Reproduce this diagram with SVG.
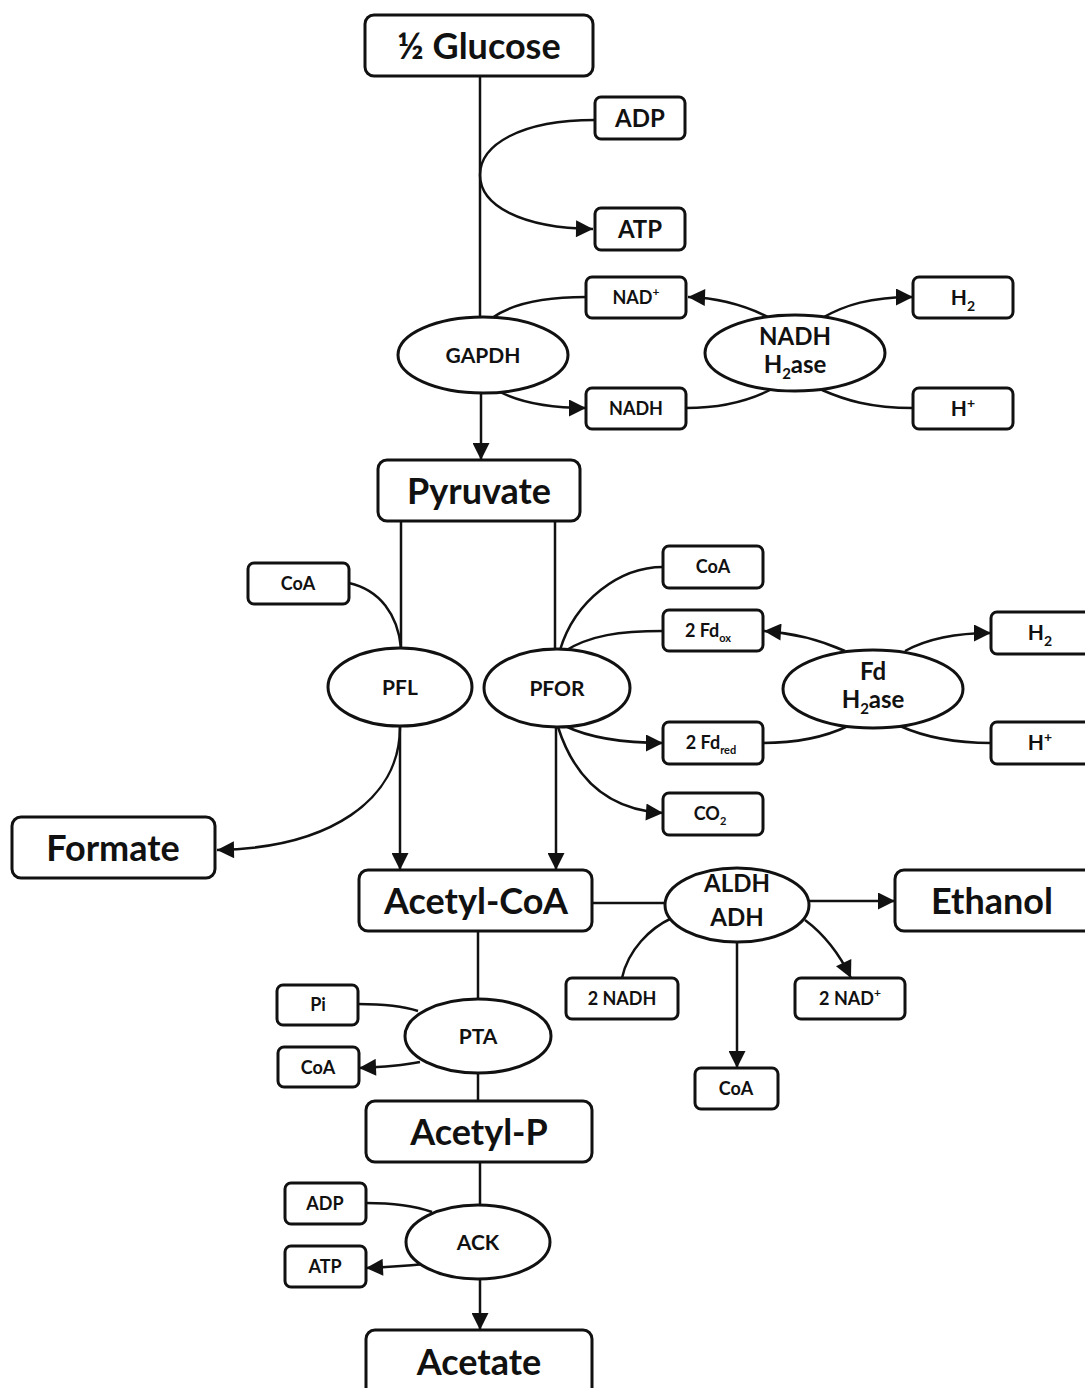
<svg xmlns="http://www.w3.org/2000/svg" width="1085" height="1388" viewBox="0 0 1085 1388">
<style>
.box{fill:#fff;stroke:#111;stroke-width:3}
.ell{fill:#fff;stroke:#111;stroke-width:3}
.ln{fill:none;stroke:#111;stroke-width:2.5}
text{font-family:Lato,"Open Sans","Liberation Sans",sans-serif;font-weight:700;fill:#111;text-anchor:middle}
.big{font-size:36px}
.med{font-size:24px}
.sm{font-size:21px}
.xs{font-size:18px}
</style>
<defs>
<marker id="ah" viewBox="0 0 10 10" refX="10" refY="5" markerWidth="19" markerHeight="17" markerUnits="userSpaceOnUse" orient="auto"><path d="M0,0 L10,5 L0,10 z" fill="#111"/></marker>
</defs>
<rect width="1085" height="1388" fill="#fff"/>
<g id="connectors">
<path class="ln" d="M480,76 V317"/>
<path class="ln" d="M595,120 C520,120 480,145 480,175 C480,205 520,228 593,229" marker-end="url(#ah)"/>
<path class="ln" d="M481,393 V460" marker-end="url(#ah)"/>
<path class="ln" d="M492,318 C510,305 540,297 586,297"/>
<path class="ln" d="M500,392 C520,402 550,408 586,408" marker-end="url(#ah)"/>
<path class="ln" d="M770,318 C745,305 720,298 688,297" marker-end="url(#ah)"/>
<path class="ln" d="M822,318 C845,305 870,297 913,297" marker-end="url(#ah)"/>
<path class="ln" d="M686,408 C725,408 750,400 770,390"/>
<path class="ln" d="M913,408 C870,408 845,400 822,390"/>
<path class="ln" d="M401,521 V648"/>
<path class="ln" d="M400,727 V870" marker-end="url(#ah)"/>
<path class="ln" d="M555,521 V650"/>
<path class="ln" d="M556,727 V870" marker-end="url(#ah)"/>
<path class="ln" d="M349,583 C380,590 398,615 401,648"/>
<path class="ln" d="M400,727 C400,800 330,848 217,850" marker-end="url(#ah)"/>
<path class="ln" d="M560,650 C575,600 620,567 663,567"/>
<path class="ln" d="M563,652 C590,635 620,631 663,631"/>
<path class="ln" d="M565,726 C590,738 620,743 663,743" marker-end="url(#ah)"/>
<path class="ln" d="M558,727 C575,780 610,810 663,813" marker-end="url(#ah)"/>
<path class="ln" d="M845,651 C820,640 795,633 764,631" marker-end="url(#ah)"/>
<path class="ln" d="M905,651 C925,640 955,633 991,633" marker-end="url(#ah)"/>
<path class="ln" d="M763,743 C800,743 825,737 848,726"/>
<path class="ln" d="M991,743 C950,743 920,735 900,726"/>
<path class="ln" d="M592,903 H665"/>
<path class="ln" d="M808,901 H895" marker-end="url(#ah)"/>
<path class="ln" d="M622,978 C628,950 650,928 672,918"/>
<path class="ln" d="M805,920 C825,935 840,955 851,978" marker-end="url(#ah)"/>
<path class="ln" d="M737,942 V1068" marker-end="url(#ah)"/>
<path class="ln" d="M478,931 V999"/>
<path class="ln" d="M358,1004 C380,1004 400,1005 418,1011"/>
<path class="ln" d="M420,1062 C400,1066 385,1067 359,1068" marker-end="url(#ah)"/>
<path class="ln" d="M478,1073 V1101"/>
<path class="ln" d="M480,1162 V1205"/>
<path class="ln" d="M366,1203 C395,1203 415,1206 432,1212"/>
<path class="ln" d="M425,1264 C405,1266 390,1267 366,1268" marker-end="url(#ah)"/>
<path class="ln" d="M480,1280 V1330" marker-end="url(#ah)"/>
</g>
<g id="glucose"><rect class="box" x="365" y="15" width="228" height="61" rx="9"/><text class="big" x="479" y="59">½ Glucose</text></g>
<g id="adp1"><rect class="box" x="595" y="97" width="90" height="42" rx="6"/><text class="med" x="640" y="127">ADP</text></g>
<g id="atp1"><rect class="box" x="595" y="208" width="90" height="42" rx="6"/><text class="med" x="640" y="238">ATP</text></g>
<g id="gapdh"><ellipse class="ell" cx="483" cy="355" rx="85" ry="38"/><text class="sm" x="483" y="363">GAPDH</text></g>
<g id="nadplus1"><rect class="box" x="586" y="277" width="100" height="41" rx="6"/><text class="xs" x="636" y="304">NAD<tspan font-size="12" dy="-8">+</tspan></text></g>
<g id="nadh1"><rect class="box" x="586" y="388" width="100" height="41" rx="6"/><text class="xs" x="636" y="415">NADH</text></g>
<g id="nadh-h2ase"><ellipse class="ell" cx="795" cy="353" rx="90" ry="38"/><text class="med" x="795" y="345">NADH</text><text class="med" x="795" y="373">H<tspan font-size="15" dy="6">2</tspan><tspan dy="-6">ase</tspan></text></g>
<g id="h2-1"><rect class="box" x="913" y="277" width="100" height="41" rx="6"/><text class="sm" x="963" y="305">H<tspan font-size="14" dy="6">2</tspan></text></g>
<g id="hplus1"><rect class="box" x="913" y="388" width="100" height="41" rx="6"/><text class="sm" x="963" y="416">H<tspan font-size="14" dy="-8">+</tspan></text></g>
<g id="pyruvate"><rect class="box" x="378" y="460" width="202" height="61" rx="9"/><text class="big" x="479" y="504" font-size="34">Pyruvate</text></g>
<g id="coa-pfl"><rect class="box" x="248" y="563" width="101" height="41" rx="6"/><text class="xs" x="298" y="590">CoA</text></g>
<g id="pfl"><ellipse class="ell" cx="400" cy="687" rx="72" ry="39"/><text class="sm" x="400" y="695">PFL</text></g>
<g id="pfor"><ellipse class="ell" cx="557" cy="688" rx="73" ry="39"/><text class="sm" x="557" y="696">PFOR</text></g>
<g id="coa-pfor"><rect class="box" x="663" y="546" width="100" height="42" rx="6"/><text class="xs" x="713" y="573">CoA</text></g>
<g id="fdox"><rect class="box" x="663" y="610" width="100" height="41" rx="6"/><text class="xs" x="708" y="637">2 Fd<tspan font-size="11" dy="5">ox</tspan></text></g>
<g id="fdred"><rect class="box" x="663" y="722" width="100" height="42" rx="6"/><text class="xs" x="711" y="749">2 Fd<tspan font-size="11" dy="5">red</tspan></text></g>
<g id="co2"><rect class="box" x="663" y="793" width="100" height="42" rx="6"/><text class="xs" x="710" y="820">CO<tspan font-size="11" dy="5">2</tspan></text></g>
<g id="fd-h2ase"><ellipse class="ell" cx="873" cy="689" rx="90" ry="39"/><text class="med" x="873" y="680">Fd</text><text class="med" x="873" y="708">H<tspan font-size="15" dy="6">2</tspan><tspan dy="-6">ase</tspan></text></g>
<g id="h2-2"><rect class="box" x="991" y="612" width="100" height="42" rx="6"/><text class="sm" x="1040" y="640">H<tspan font-size="14" dy="6">2</tspan></text></g>
<g id="hplus2"><rect class="box" x="991" y="722" width="100" height="42" rx="6"/><text class="sm" x="1040" y="750">H<tspan font-size="14" dy="-8">+</tspan></text></g>
<g id="formate"><rect class="box" x="12" y="817" width="203" height="61" rx="9"/><text class="big" x="113" y="861" font-size="34">Formate</text></g>
<g id="acetylcoa"><rect class="box" x="359" y="870" width="233" height="61" rx="9"/><text class="big" x="476" y="914">Acetyl-CoA</text></g>
<g id="aldh-adh"><ellipse class="ell" cx="737" cy="905" rx="72" ry="37"/><text class="med" x="737" y="892">ALDH</text><text class="med" x="737" y="926">ADH</text></g>
<g id="ethanol"><rect class="box" x="895" y="870" width="200" height="61" rx="9"/><text class="big" x="992" y="914">Ethanol</text></g>
<g id="nadh2"><rect class="box" x="566" y="978" width="112" height="41" rx="6"/><text class="xs" x="622" y="1005">2 NADH</text></g>
<g id="nadplus2"><rect class="box" x="795" y="978" width="110" height="41" rx="6"/><text class="xs" x="850" y="1005">2 NAD<tspan font-size="12" dy="-8">+</tspan></text></g>
<g id="coa-aldh"><rect class="box" x="695" y="1068" width="83" height="41" rx="6"/><text class="xs" x="736" y="1095">CoA</text></g>
<g id="pta"><ellipse class="ell" cx="478" cy="1036" rx="73" ry="37"/><text class="sm" x="478" y="1044">PTA</text></g>
<g id="pi"><rect class="box" x="277" y="985" width="81" height="40" rx="6"/><text class="xs" x="318" y="1011">Pi</text></g>
<g id="coa-pta"><rect class="box" x="278" y="1047" width="81" height="40" rx="6"/><text class="xs" x="318" y="1074">CoA</text></g>
<g id="acetylp"><rect class="box" x="366" y="1101" width="226" height="61" rx="9"/><text class="big" x="479" y="1145" font-size="34">Acetyl-P</text></g>
<g id="ack"><ellipse class="ell" cx="478" cy="1242" rx="72" ry="37"/><text class="sm" x="478" y="1250">ACK</text></g>
<g id="adp2"><rect class="box" x="285" y="1183" width="81" height="41" rx="6"/><text class="xs" x="325" y="1210">ADP</text></g>
<g id="atp2"><rect class="box" x="285" y="1246" width="81" height="41" rx="6"/><text class="xs" x="325" y="1273">ATP</text></g>
<g id="acetate"><rect class="box" x="366" y="1330" width="226" height="70" rx="9"/><text class="big" x="479" y="1375" font-size="34">Acetate</text></g>
</svg>
